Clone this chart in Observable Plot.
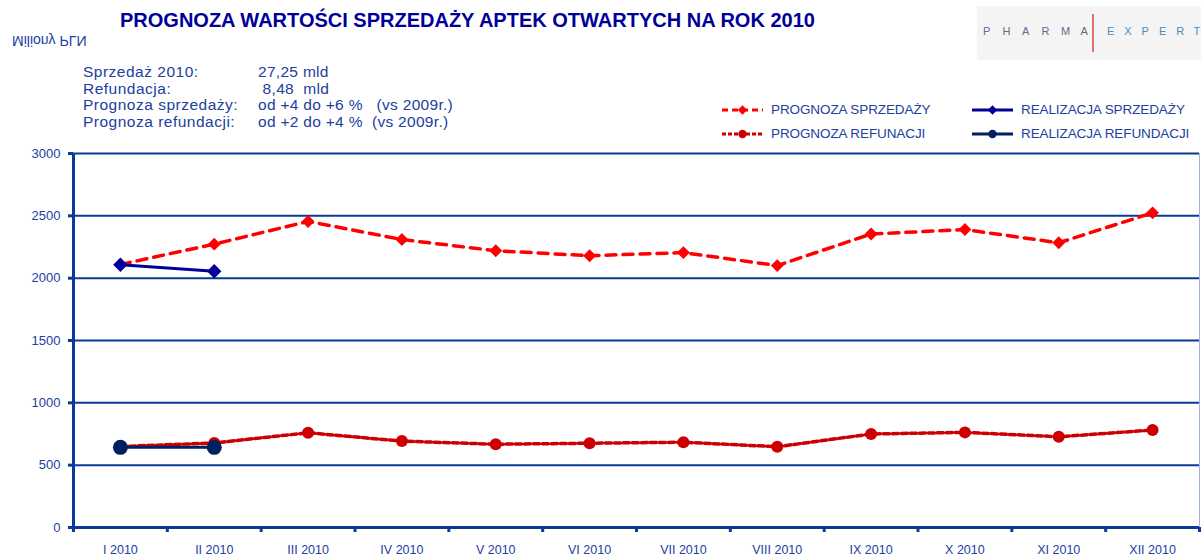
<!DOCTYPE html>
<html><head><meta charset="utf-8">
<script src="https://cdn.jsdelivr.net/npm/d3@7"></script>
<script src="https://cdn.jsdelivr.net/npm/@observablehq/plot@0.6"></script>
<style>
body{margin:0;background:#fff;font-family:"Liberation Sans",Arial,sans-serif;}
#wrap{position:relative;width:1201px;height:557px;overflow:hidden;}
.abs{position:absolute;white-space:pre;}
#title{left:120px;top:9px;font-size:20px;font-weight:bold;color:#000099;letter-spacing:0px;}
#unit{left:12px;top:33px;font-size:14px;color:#2140a0;transform:scaleY(-1);}
.ann{font-size:15.5px;color:#2140a0;line-height:16.5px;letter-spacing:0.5px;}
.annv{letter-spacing:0.3px;}
.leg{font-size:13.5px;color:#2140a0;letter-spacing:-0.1px;}
#logo{left:977px;top:6px;width:224px;height:54px;background:#f4f4f4;overflow:hidden;}
#chart{position:absolute;left:0;top:140px;}
.lg{position:absolute;top:19px;font-size:11px;}
</style></head>
<body><div id="wrap">
<div id="title" class="abs"></div>
<div id="unit" class="abs"></div>
<div id="ann"></div>
<div id="legend"></div>
<div id="logo" class="abs"></div>
<div id="chart"></div>
</div>
<script>
const titleText = "PROGNOZA WARTOŚCI SPRZEDAŻY APTEK OTWARTYCH NA ROK 2010";
const unitText = "Miliony PLN";
const annLabels = ["Sprzedaż 2010:", "Refundacja:", "Prognoza sprzedaży:", "Prognoza refundacji:"];
const annValues = ["27,25 mld", " 8,48  mld", "od +4 do +6 %   (vs 2009r.)", "od +2 do +4 %  (vs 2009r.)"];
const logoLeft = "PHARMA", logoRight = "EXPERT";
const months = ["I 2010","II 2010","III 2010","IV 2010","V 2010","VI 2010","VII 2010","VIII 2010","IX 2010","X 2010","XI 2010","XII 2010"];
const prognozaSprzedazy = [2110, 2273, 2455, 2310, 2220, 2180, 2205, 2101, 2354, 2390, 2284, 2524];
const realizacjaSprzedazy = [2107, 2056];
const prognozaRefundacji = [650, 678, 760, 693, 668, 676, 684, 648, 750, 763, 728, 782];
const realizacjaRefundacji = [643, 643];
const yTicks = [0, 500, 1000, 1500, 2000, 2500, 3000];
const seriesNames = ["PROGNOZA SPRZEDAŻY", "REALIZACJA SPRZEDAŻY", "PROGNOZA REFUNACJI", "REALIZACJA REFUNDACJI"];

const axisBlue = "#0b3a96";
const textBlue = "#2140a0";
const cProgS = "#ff0000", cRealS = "#000099", cProgR = "#cc0000", cRealR = "#002060";

document.getElementById("title").textContent = titleText;
document.getElementById("unit").textContent = unitText;
const ann = document.getElementById("ann");
annLabels.forEach((l, i) => {
  const a = document.createElement("div"); a.className = "abs ann"; a.style.left = "83px"; a.style.top = (64 + i*16.5) + "px"; a.textContent = l; ann.appendChild(a);
  const b = document.createElement("div"); b.className = "abs ann annv"; b.style.left = "258px"; b.style.top = (64 + i*16.5) + "px"; b.textContent = annValues[i]; ann.appendChild(b);
});

// logo letters
const logo = document.getElementById("logo");
[...logoLeft].forEach((ch, i) => {
  const s = document.createElement("span"); s.className = "lg"; s.style.left = (6 + i*19.5) + "px"; s.style.color = "#5a6e8c"; s.textContent = ch; logo.appendChild(s);
});
[...logoRight].forEach((ch, i) => {
  const s = document.createElement("span"); s.className = "lg"; s.style.left = (130 + i*17.3) + "px"; s.style.color = "#4a8ab8"; s.textContent = ch; logo.appendChild(s);
});
const bar = document.createElement("span"); bar.style.cssText = "position:absolute;left:115px;top:8px;width:2px;height:38px;background:#e07070;"; logo.appendChild(bar);

// legend
const legSpecs = [
  {name: seriesNames[0], color: cProgS, dash: "6,4", sym: "diamond", x: 722, y: 110},
  {name: seriesNames[1], color: cRealS, dash: null, sym: "diamond", x: 972, y: 110},
  {name: seriesNames[2], color: cProgR, dash: "4,2", sym: "circle", x: 722, y: 134},
  {name: seriesNames[3], color: cRealR, dash: null, sym: "circle", x: 972, y: 134}
];
const leg = document.getElementById("legend");
legSpecs.forEach(s => {
  const svg = d3.create("svg").attr("width", 42).attr("height", 14)
    .style("position", "absolute").style("left", s.x + "px").style("top", (s.y - 7) + "px");
  svg.append("line").attr("x1", 0).attr("x2", 41).attr("y1", 7).attr("y2", 7)
    .attr("stroke", s.color).attr("stroke-width", 3).attr("stroke-dasharray", s.dash);
  svg.append("path").attr("transform", "translate(20.5,7)")
    .attr("d", d3.symbol(s.sym === "diamond" ? d3.symbolDiamond2 : d3.symbolCircle, 55)())
    .attr("fill", s.color);
  leg.appendChild(svg.node());
  const t = document.createElement("div"); t.className = "abs leg";
  t.style.left = (s.x + 49) + "px"; t.style.top = (s.y - 8) + "px"; t.textContent = s.name;
  leg.appendChild(t);
});

const idx = (d, i) => i + 0.5;
const chart = Plot.plot({
  width: 1201, height: 417,
  marginTop: 13, marginBottom: 30, marginLeft: 73, marginRight: 2,
  style: {fontFamily: "Liberation Sans, Arial, sans-serif", background: "transparent"},
  x: {type: "linear", domain: [0, 12]},
  y: {domain: [0, 3000]},
  marks: [
    Plot.gridY(yTicks, {stroke: axisBlue, strokeOpacity: 1, strokeWidth: 2}),
    Plot.ruleX([12], {stroke: "#9db3e0", strokeWidth: 1}),
    Plot.axisY({ticks: yTicks, tickFormat: d => String(d), tickSize: 5, tickPadding: 8, stroke: axisBlue, strokeWidth: 3, fill: textBlue, fontSize: 13, label: null}),
    Plot.axisX({ticks: d3.range(13), tickSize: 5, tickFormat: () => "", stroke: axisBlue, strokeWidth: 3, label: null}),
    Plot.axisX({ticks: d3.range(12).map(i => i + 0.5), tickFormat: v => months[Math.floor(v)], tickSize: 0, tickPadding: 18, fill: textBlue, fontSize: 12.5, label: null, style: {letterSpacing: "-0.2px"}}),
    Plot.ruleX([0], {stroke: axisBlue, strokeWidth: 3}),
    Plot.ruleY([0], {stroke: axisBlue, strokeWidth: 3}),
    Plot.line(prognozaSprzedazy, {x: idx, y: d => d, stroke: cProgS, strokeWidth: 3.5, strokeDasharray: "10,7"}),
    Plot.dot(prognozaSprzedazy, {x: idx, y: d => d, symbol: "diamond2", r: 5.8, fill: cProgS}),
    Plot.line(prognozaRefundacji, {x: idx, y: d => d, stroke: cProgR, strokeWidth: 3.5, strokeDasharray: "6,3"}),
    Plot.dot(prognozaRefundacji, {x: idx, y: d => d, r: 6, fill: cProgR}),
    Plot.line(realizacjaSprzedazy, {x: idx, y: d => d, stroke: cRealS, strokeWidth: 3}),
    Plot.dot(realizacjaSprzedazy, {x: idx, y: d => d, symbol: "diamond2", r: 6.5, fill: cRealS}),
    Plot.line(realizacjaRefundacji, {x: idx, y: d => d, stroke: cRealR, strokeWidth: 3}),
    Plot.dot(realizacjaRefundacji, {x: idx, y: d => d, r: 7.5, fill: cRealR})
  ]
});
document.getElementById("chart").appendChild(chart);
</script>
</body></html>
